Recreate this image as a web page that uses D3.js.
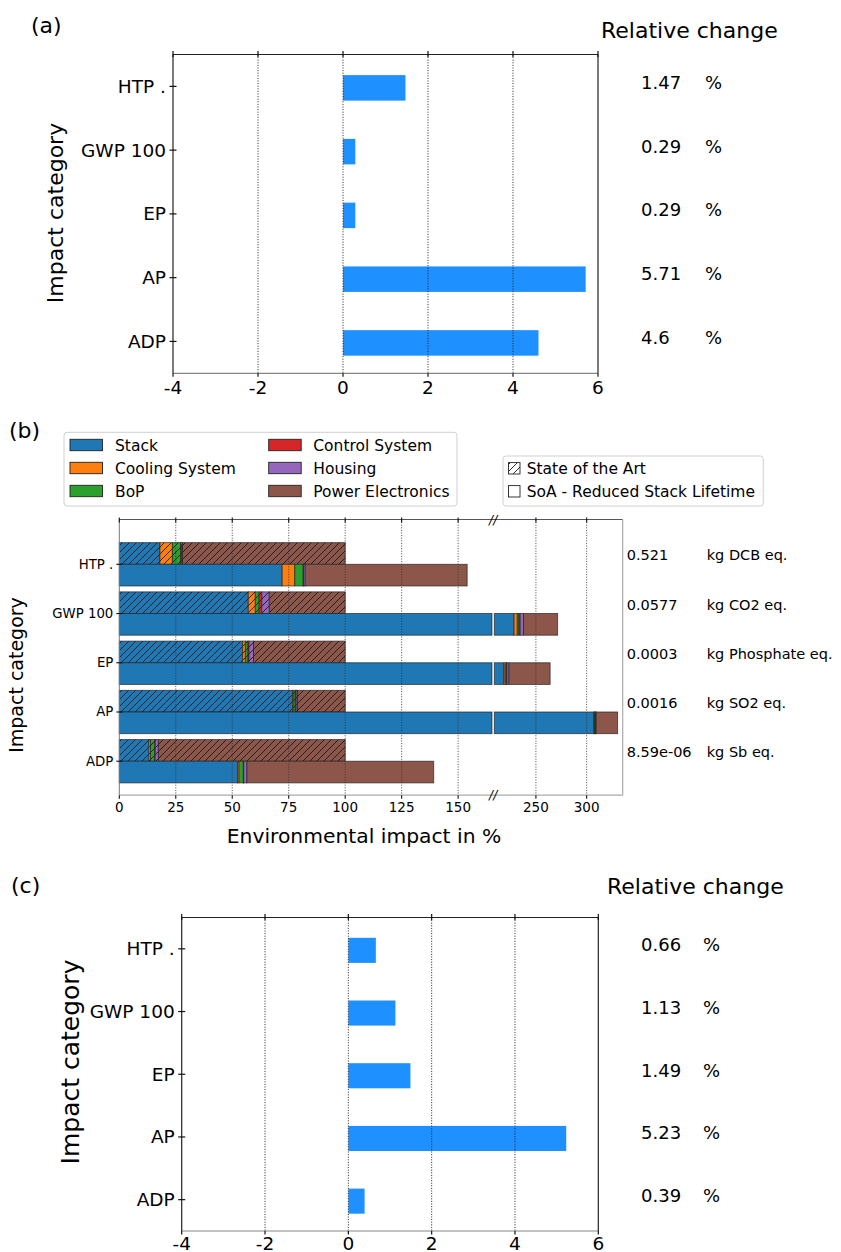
<!DOCTYPE html>
<html>
<head>
<meta charset="utf-8">
<script src="https://cdn.jsdelivr.net/npm/d3@7"></script>
<style>
  html, body { margin: 0; padding: 0; background: #fff; }
  svg { display: block; font-family: "DejaVu Sans", sans-serif; }
</style>
</head>
<body>
<svg id="chart" width="841" height="1252"></svg>
<script>
// ---------------- DATA ----------------
const categories = ["HTP .", "GWP 100", "EP", "AP", "ADP"];

// Panel (a): relative change in %
const relChangeA = [1.47, 0.29, 0.29, 5.71, 4.6];
const relChangeALabels = ["1.47", "0.29", "0.29", "5.71", "4.6"];
// Panel (c): relative change in %
const relChangeC = [0.66, 1.13, 1.49, 5.23, 0.39];
const relChangeCLabels = ["0.66", "1.13", "1.49", "5.23", "0.39"];
const relTicks = [-4, -2, 0, 2, 4, 6];

// Panel (b): components
const components = ["Stack", "Cooling System", "BoP", "Control System", "Housing", "Power Electronics"];
const componentColors = ["#1f77b4", "#ff7f0e", "#2ca02c", "#d62728", "#9467bd", "#8c564b"];
// State of the Art (per category, per component, % of total)
const soaHTP = [18.0, 5.5, 3.7, 0.3, 0.5, 72.0];
const soaGWP = [57.1, 3.1, 1.7, 1.2, 3.3, 33.6];
const soaEP  = [54.6, 1.2, 1.2, 0.4, 2.0, 40.6];
const soaAP  = [76.7, 0.6, 0.8, 0.2, 0.6, 21.1];
const soaADP = [13.1, 0.7, 1.9, 0.2, 1.4, 82.7];
// SoA - Reduced Stack Lifetime
const redHTP = [72.1, 5.6, 3.7, 0.2, 0.7, 71.7];
const redGWP = [228.5, 3.1, 1.7, 1.2, 3.3, 33.6];
const redEP  = [218.6, 1.2, 1.2, 0.4, 2.0, 40.6];
const redAP  = [307.2, 0.6, 0.8, 0.2, 0.6, 21.1];
const redADP = [52.3, 0.7, 1.9, 0.2, 1.4, 82.7];
const soaValues = [soaHTP, soaGWP, soaEP, soaAP, soaADP];
const redValues = [redHTP, redGWP, redEP, redAP, redADP];

const refValues = ["0.521", "0.0577", "0.0003", "0.0016", "8.59e-06"];
const refUnits = ["kg DCB eq.", "kg CO2 eq.", "kg Phosphate eq.", "kg SO2 eq.", "kg Sb eq."];
const ticksLeft = [0, 25, 50, 75, 100, 125, 150];
const ticksRight = [250, 300];
const domainLeft = [0, 165];
const domainRight = [209, 335.5];
const legendSeries = ["State of the Art", "SoA - Reduced Stack Lifetime"];

// ---------------- DRAW ----------------
const svg = d3.select("#chart");

// hatch pattern
const defs = svg.append("defs");
const pat = defs.append("pattern").attr("id", "hatch")
  .attr("patternUnits", "userSpaceOnUse").attr("width", 7).attr("height", 7);
pat.append("path").attr("d", "M-1,1 l2,-2 M0,7 l7,-7 M6,8 l2,-2")
  .attr("stroke", "#1a1a1a").attr("stroke-width", 0.9);

function relPanel(cfg) {
  const g = svg.append("g");
  const x = d3.scaleLinear().domain([-4, 6]).range([cfg.left, cfg.right]);
  const y = d3.scaleLinear().domain([-0.5, 4.5]).range([cfg.top, cfg.bottom]);
  const bh = y(0.2) - y(-0.2);

  // bars
  g.selectAll("rect.bar").data(cfg.values).enter().append("rect")
    .attr("x", d => x(Math.min(0, d)))
    .attr("width", d => Math.abs(x(d) - x(0)))
    .attr("y", (d, i) => y(i) - bh / 2 + 1.5)
    .attr("height", bh)
    .attr("fill", "#1e90ff");

  // grid
  g.selectAll("line.grid").data(relTicks.slice(1, -1)).enter().append("line")
    .attr("x1", d => x(d)).attr("x2", d => x(d))
    .attr("y1", cfg.top).attr("y2", cfg.bottom)
    .attr("stroke", "#222").attr("stroke-width", 1).attr("stroke-dasharray", "1,1.6");

  // spines
  g.append("line").attr("x1", cfg.left).attr("x2", cfg.right).attr("y1", cfg.top).attr("y2", cfg.top)
    .attr("stroke", "#222").attr("stroke-width", 1.2);
  g.append("line").attr("x1", cfg.left).attr("x2", cfg.right).attr("y1", cfg.bottom).attr("y2", cfg.bottom)
    .attr("stroke", "#888").attr("stroke-width", 1.2);
  g.append("line").attr("x1", cfg.left).attr("x2", cfg.left).attr("y1", cfg.top).attr("y2", cfg.bottom)
    .attr("stroke", "#222").attr("stroke-width", 1.2);
  g.append("line").attr("x1", cfg.right).attr("x2", cfg.right).attr("y1", cfg.top).attr("y2", cfg.bottom)
    .attr("stroke", "#222").attr("stroke-width", 1.2);

  // x ticks top & bottom
  relTicks.forEach(t => {
    g.append("line").attr("x1", x(t)).attr("x2", x(t)).attr("y1", cfg.top - 3.5).attr("y2", cfg.top + 2.5)
      .attr("stroke", "#111").attr("stroke-width", 1.2);
    g.append("line").attr("x1", x(t)).attr("x2", x(t)).attr("y1", cfg.bottom).attr("y2", cfg.bottom + 3.5)
      .attr("stroke", "#111").attr("stroke-width", 1.2);
    g.append("text").attr("x", x(t)).attr("y", cfg.bottom + cfg.tickDy)
      .attr("text-anchor", "middle").attr("font-size", 18.5).attr("fill", "#000")
      .text(t);
  });

  // y ticks
  categories.forEach((c, i) => {
    g.append("line").attr("x1", cfg.left - 3.5).attr("x2", cfg.left + 3.5).attr("y1", y(i)).attr("y2", y(i))
      .attr("stroke", "#111").attr("stroke-width", 1.2);
    g.append("text").attr("x", cfg.left - 7).attr("y", y(i) + 6.5)
      .attr("text-anchor", "end").attr("font-size", 18.5).attr("fill", "#000").text(c);
    g.append("text").attr("x", 641).attr("y", y(i) + 2.5)
      .attr("font-size", 18).attr("fill", "#000").text(cfg.labels[i]);
    g.append("text").attr("x", cfg.pctX).attr("y", y(i) + 2.5)
      .attr("font-size", 18).attr("fill", "#000").text("%");
  });

  // titles
  g.append("text").attr("x", cfg.tagX).attr("y", cfg.tagY).attr("font-size", 22).text(cfg.tag);
  g.append("text").attr("x", cfg.rcX).attr("y", cfg.rcY).attr("font-size", 22).text("Relative change");
  g.append("text").attr("transform", `translate(${cfg.ylabX},${cfg.ylabY}) rotate(-90)`)
    .attr("text-anchor", "middle").attr("dy", "0.35em").attr("font-size", cfg.ylabSize).text("Impact category");
}

relPanel({ left: 173, right: 598, top: 54.5, bottom: 373.3, values: relChangeA, labels: relChangeALabels,
  pctX: 705, tag: "(a)", tagX: 31, tagY: 33, rcX: 601, rcY: 38, ylabX: 55, ylabY: 213, ylabSize: 22, tickDy: 20.5 });
relPanel({ left: 181.7, right: 598.3, top: 917.5, bottom: 1231, values: relChangeC, labels: relChangeCLabels,
  pctX: 703, tag: "(c)", tagX: 11, tagY: 893, rcX: 607, rcY: 894, ylabX: 70, ylabY: 1062, ylabSize: 25, tickDy: 18.5 });

// ---------------- Panel (b) ----------------
(function () {
  const g = svg.append("g");
  const L = 119.3, BRK1 = 492, BRK2 = 494.3, R = 622.7, T = 519.5, B = 795.2;
  const xL = d3.scaleLinear().domain(domainLeft).range([L, BRK1]);
  const xR = d3.scaleLinear().domain(domainRight).range([BRK2, R]);
  const y = d3.scaleLinear().domain([-0.91, 4.69]).range([T, B]);
  const bh = y(0.44) - y(0);

  function pieces(a, b) {
    const out = [];
    if (a < domainLeft[1]) out.push([xL(a), xL(Math.min(b, domainLeft[1]))]);
    if (b > domainRight[0]) out.push([xR(Math.max(a, domainRight[0])), xR(b)]);
    return out;
  }

  function drawStack(vals, i, y0, hatched) {
    let acc = 0;
    vals.forEach((v, k) => {
      const a = acc, b = acc + v;
      acc = b;
      pieces(a, b).forEach(([x0, x1]) => {
        g.append("rect").attr("x", x0).attr("y", y0).attr("width", Math.max(0, x1 - x0)).attr("height", bh)
          .attr("fill", componentColors[k]);
        if (hatched) {
          g.append("rect").attr("x", x0).attr("y", y0).attr("width", Math.max(0, x1 - x0)).attr("height", bh)
            .attr("fill", "url(#hatch)");
        }
        g.append("rect").attr("x", x0).attr("y", y0).attr("width", Math.max(0, x1 - x0)).attr("height", bh)
          .attr("fill", "none").attr("stroke", "#222").attr("stroke-opacity", 0.75).attr("stroke-width", 0.9);
      });
    });
  }

  categories.forEach((c, i) => {
    drawStack(soaValues[i], i, y(i) - bh, true);
    drawStack(redValues[i], i, y(i), false);
  });

  // grid lines
  const gridXs = ticksLeft.map(t => xL(t)).concat(ticksRight.map(t => xR(t)));
  gridXs.slice(1).forEach(gx => {
    g.append("line").attr("x1", gx).attr("x2", gx).attr("y1", T).attr("y2", B)
      .attr("stroke", "#333").attr("stroke-width", 0.9).attr("stroke-dasharray", "1,1.6");
  });

  // spines
  g.append("line").attr("x1", L).attr("x2", R).attr("y1", T).attr("y2", T).attr("stroke", "#555").attr("stroke-width", 1);
  g.append("line").attr("x1", L).attr("x2", R).attr("y1", B).attr("y2", B).attr("stroke", "#aaa").attr("stroke-width", 1.2);
  g.append("line").attr("x1", L).attr("x2", L).attr("y1", T).attr("y2", B).attr("stroke", "#777").attr("stroke-width", 1);
  g.append("line").attr("x1", R).attr("x2", R).attr("y1", T).attr("y2", B).attr("stroke", "#aaa").attr("stroke-width", 1.2);

  // ticks + labels
  const tickData = ticksLeft.map(t => ({ t, x: xL(t) })).concat(ticksRight.map(t => ({ t, x: xR(t) })));
  tickData.forEach(d => {
    g.append("line").attr("x1", d.x).attr("x2", d.x).attr("y1", T - 2).attr("y2", T + 3)
      .attr("stroke", "#111").attr("stroke-width", 1.1);
    g.append("line").attr("x1", d.x).attr("x2", d.x).attr("y1", B).attr("y2", B + 3.5)
      .attr("stroke", "#111").attr("stroke-width", 1.1);
    g.append("text").attr("x", d.x).attr("y", B + 17).attr("text-anchor", "middle")
      .attr("font-size", 13.5).text(d.t);
  });

  // break marks
  [T, B].forEach(yy => {
    g.append("text").attr("x", (BRK1 + BRK2) / 2).attr("y", yy + 4).attr("text-anchor", "middle")
      .attr("font-size", 12).attr("font-style", "italic").text("//");
  });

  // y ticks + labels
  categories.forEach((c, i) => {
    g.append("line").attr("x1", L - 3).attr("x2", L + 3).attr("y1", y(i)).attr("y2", y(i))
      .attr("stroke", "#111").attr("stroke-width", 1.1);
    g.append("text").attr("x", L - 6).attr("y", y(i) + 4.5).attr("text-anchor", "end")
      .attr("font-size", 13.3).text(c);
    g.append("text").attr("x", 626.7).attr("y", y(i) - 9 + 5).attr("font-size", 14.5).text(refValues[i]);
    g.append("text").attr("x", 706.7).attr("y", y(i) - 9 + 5).attr("font-size", 14.5).text(refUnits[i]);
  });

  // axis labels
  g.append("text").attr("x", 364).attr("y", 843).attr("text-anchor", "middle").attr("font-size", 20.3)
    .text("Environmental impact in %");
  g.append("text").attr("transform", `translate(16,675) rotate(-90)`).attr("text-anchor", "middle")
    .attr("dy", "0.35em").attr("font-size", 19).text("Impact category");
  g.append("text").attr("x", 9).attr("y", 438).attr("font-size", 22).text("(b)");

  // legend 1
  g.append("rect").attr("x", 64).attr("y", 432.3).attr("width", 393).attr("height", 73.7).attr("rx", 3)
    .attr("fill", "#fff").attr("stroke", "#d0d0d0").attr("stroke-width", 1);
  components.forEach((c, k) => {
    const col = Math.floor(k / 3), row = k % 3;
    const px = col === 0 ? 70 : 268.7;
    const tx = col === 0 ? 115 : 313.3;
    const cy = 445 + row * 23;
    g.append("rect").attr("x", px).attr("y", cy - 5.7).attr("width", 32.5).attr("height", 11.4)
      .attr("fill", componentColors[k]).attr("stroke", "#222").attr("stroke-width", 0.9);
    g.append("text").attr("x", tx).attr("y", cy + 5.5).attr("font-size", 15.5).text(c);
  });

  // legend 2
  g.append("rect").attr("x", 503).attr("y", 456).attr("width", 260.3).attr("height", 50).attr("rx", 3)
    .attr("fill", "#fff").attr("stroke", "#d0d0d0").attr("stroke-width", 1);
  legendSeries.forEach((s, k) => {
    const cy = 468.3 + k * 23;
    g.append("rect").attr("x", 508.5).attr("y", cy - 5.7).attr("width", 11.5).attr("height", 11.4)
      .attr("fill", k === 0 ? "url(#hatch)" : "#fff").attr("stroke", "#222").attr("stroke-width", 0.9);
    g.append("text").attr("x", 526.7).attr("y", cy + 5.5).attr("font-size", 15.5).text(s);
  });
})();
</script>
</body>
</html>
